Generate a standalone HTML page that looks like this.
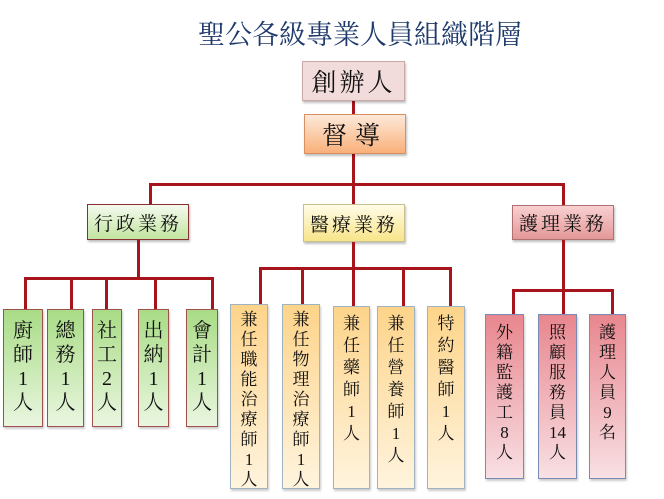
<!DOCTYPE html>
<html><head><meta charset="utf-8"><style>
body{margin:0;width:664px;height:499px;background:#fff;position:relative;overflow:hidden;font-family:"Liberation Serif","Noto Serif CJK SC",serif;}
.a{position:absolute;box-sizing:border-box;}
.l{position:absolute;background:#a8141c;}
.t{position:absolute;left:150px;top:13px;width:420px;text-align:center;font-size:27px;color:#1f3a6b;font-family:"Liberation Serif","Noto Serif CJK SC",serif;}
.bx{position:absolute;box-sizing:border-box;display:flex;align-items:center;justify-content:center;color:#111;box-shadow:1px 2px 2px rgba(0,0,0,.25);}
.v{position:absolute;box-sizing:border-box;text-align:center;color:#111;box-shadow:1px 2px 2px rgba(0,0,0,.2);}
.g{background:linear-gradient(#a9dc86,#e9f6e0);border:1.5px solid #a0504c;font-size:20px;line-height:24px;padding-top:9px;}
.o{background:linear-gradient(#fdd48a,#fff4de);border:1.5px solid #9fb4c0;font-size:17px;}
.r{background:linear-gradient(#e8868e,#f8e0e4);border:1.5px solid #7a8cb4;font-size:17px;line-height:20px;padding-top:8px;}
</style></head><body>
<div class="t">聖公各級專業人員組織階層</div>

<div class="l" style="left:352px;top:100px;width:3px;height:15px"></div>
<div class="l" style="left:352px;top:153px;width:3px;height:52px"></div>
<div class="l" style="left:149px;top:183px;width:416px;height:3px"></div>
<div class="l" style="left:149px;top:183px;width:3px;height:22px"></div>
<div class="l" style="left:562px;top:183px;width:3px;height:22px"></div>

<div class="bx" style="left:302px;top:61px;width:103px;height:40px;background:#f2dcdb;border:1px solid #c9a8a6;font-size:25px;letter-spacing:3px">創辦人</div>
<div class="bx" style="left:304px;top:114px;width:102px;height:40px;background:linear-gradient(#fde9d9,#f9b07a);border:1px solid #d89060;font-size:25px;letter-spacing:8px">督導</div>

<div class="bx" style="left:87px;top:204px;width:102px;height:36px;background:linear-gradient(#f4faee,#c2e5a0);border:1.5px solid #8a3030;font-size:19px;letter-spacing:3px">行政業務</div>
<div class="bx" style="left:303px;top:204px;width:102px;height:38px;background:linear-gradient(#fffce6,#f8e48a);border:1px solid #c8c090;font-size:19px;letter-spacing:3px">醫療業務</div>
<div class="bx" style="left:512px;top:205px;width:102px;height:35px;background:linear-gradient(#f8d0d0,#e49898);border:1px solid #b07070;font-size:19px;letter-spacing:3px">護理業務</div>

<!-- admin -->
<div class="l" style="left:137px;top:240px;width:3px;height:39px"></div>
<div class="l" style="left:24px;top:277px;width:190px;height:3px"></div>
<div class="l" style="left:24px;top:277px;width:3px;height:33px"></div>
<div class="l" style="left:70px;top:277px;width:3px;height:33px"></div>
<div class="l" style="left:105px;top:277px;width:3px;height:33px"></div>
<div class="l" style="left:154px;top:277px;width:3px;height:33px"></div>
<div class="l" style="left:211px;top:277px;width:3px;height:33px"></div>
<div class="v g" style="left:3px;top:309px;width:40px;height:118px">廚<br>師<br>1<br>人</div>
<div class="v g" style="left:47px;top:309px;width:37px;height:118px">總<br>務<br>1<br>人</div>
<div class="v g" style="left:92px;top:309px;width:30px;height:118px">社<br>工<br>2<br>人</div>
<div class="v g" style="left:138px;top:309px;width:31px;height:118px">出<br>納<br>1<br>人</div>
<div class="v g" style="left:186px;top:309px;width:32px;height:118px">會<br>計<br>1<br>人</div>

<!-- medical -->
<div class="l" style="left:352px;top:242px;width:3px;height:27px"></div>
<div class="l" style="left:259px;top:267px;width:193px;height:3px"></div>
<div class="l" style="left:259px;top:267px;width:3px;height:38px"></div>
<div class="l" style="left:301px;top:267px;width:3px;height:38px"></div>
<div class="l" style="left:352px;top:267px;width:3px;height:40px"></div>
<div class="l" style="left:402px;top:267px;width:3px;height:40px"></div>
<div class="l" style="left:449px;top:267px;width:3px;height:40px"></div>
<div class="v o" style="left:230px;top:304px;width:38px;height:185px;line-height:20px;padding-top:5px">兼<br>任<br>職<br>能<br>治<br>療<br>師<br>1<br>人</div>
<div class="v o" style="left:282px;top:304px;width:38px;height:185px;line-height:20px;padding-top:5px">兼<br>任<br>物<br>理<br>治<br>療<br>師<br>1<br>人</div>
<div class="v o" style="left:333px;top:306px;width:37px;height:183px;line-height:22px;padding-top:6px">兼<br>任<br>藥<br>師<br>1<br>人</div>
<div class="v o" style="left:377px;top:306px;width:38px;height:183px;line-height:22px;padding-top:6px">兼<br>任<br>營<br>養<br>師<br>1<br>人</div>
<div class="v o" style="left:427px;top:306px;width:38px;height:183px;line-height:22px;padding-top:6px">特<br>約<br>醫<br>師<br>1<br>人</div>

<!-- nursing -->
<div class="l" style="left:562px;top:240px;width:3px;height:75px"></div>
<div class="l" style="left:512px;top:289px;width:102px;height:3px"></div>
<div class="l" style="left:512px;top:289px;width:3px;height:26px"></div>
<div class="l" style="left:611px;top:289px;width:3px;height:26px"></div>
<div class="v r" style="left:485px;top:314px;width:39px;height:165px">外<br>籍<br>監<br>護<br>工<br>8<br>人</div>
<div class="v r" style="left:538px;top:314px;width:39px;height:165px">照<br>顧<br>服<br>務<br>員<br>14<br>人</div>
<div class="v r" style="left:589px;top:314px;width:37px;height:165px">護<br>理<br>人<br>員<br>9<br>名</div>
</body></html>
